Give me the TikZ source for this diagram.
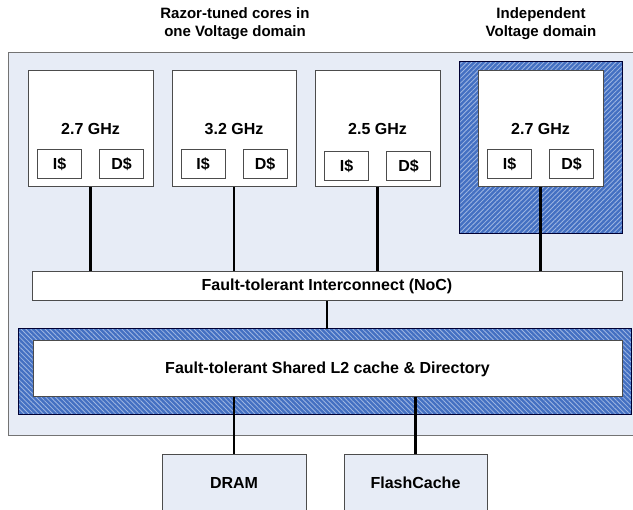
\documentclass[tikz,border=0pt]{standalone}
\usepackage{fontspec}
\setmainfont{Liberation Sans}
\usepackage{xcolor}
\usetikzlibrary{positioning,patterns.meta}

\definecolor{chipbg}{RGB}{231,236,246}
\definecolor{hatchblue}{RGB}{68,112,194}
\definecolor{hatchline}{RGB}{158,182,226}

\begin{document}
\begin{tikzpicture}[x=1pt, y=-1pt,
    every node/.style={font=\bfseries\fontsize{16}{18}\selectfont},
    chip/.style={rectangle, draw=black!55, line width=1pt, fill=chipbg, inner sep=0pt},
    core/.style={rectangle, draw=black!70, line width=1pt, fill=white, minimum width=125pt, minimum height=116pt, inner sep=0pt},
    cachebox/.style={rectangle, draw=black!70, line width=1pt, fill=white, minimum width=44pt, minimum height=29pt, inner sep=0pt},
    bar/.style={rectangle, draw=black!70, line width=1pt, fill=white, inner sep=0pt},
    hatchbox/.style={rectangle, draw=black!80!blue, line width=1pt, preaction={fill=hatchblue}, pattern={Lines[angle=#1, distance=3.4pt, line width=0.8pt]}, pattern color=hatchline, inner sep=0pt},
    memory/.style={rectangle, draw=black!70, line width=1pt, fill=chipbg, minimum width=144pt, inner sep=0pt, text height=34pt, text depth=40pt, anchor=north},
    title/.style={align=center, font=\bfseries\fontsize{15}{18}\selectfont},
    link/.style={line width=2.2pt, black}
]
    \useasboundingbox (0,0) rectangle (633,510);

    % labels on top
    \node[title] (shared) at (235,24) {Razor-tuned cores in\\one Voltage domain};
    \node[title] (indep) at (541,24) {Independent\\Voltage domain};

    % chip background
    \node[chip, anchor=north west, minimum width=640pt, minimum height=383pt] (chip) at (8,52) {};

    % cores
    \node[hatchbox=45, minimum width=163pt, minimum height=172pt] (island) at (540.5,148) {};
    \node[core] (core1) at (90.5,129) {2.7 GHz};
    \node[core, minimum width=124pt] (core2) at (234,129) {3.2 GHz};
    \node[core] (core3) at (377.5,129) {2.5 GHz};
    \node[core] (core4) at (540.5,129) {2.7 GHz};

    \node[cachebox] (i1) at ([xshift=-31pt, yshift=-35.5pt]core1.center) {I\$};
    \node[cachebox] (d1) at ([xshift=31pt, yshift=-35.5pt]core1.center) {D\$};
    \node[cachebox] (i2) at ([xshift=-31pt, yshift=-35.5pt]core2.center) {I\$};
    \node[cachebox] (d2) at ([xshift=31pt, yshift=-35.5pt]core2.center) {D\$};
    \node[cachebox] (i3) at ([xshift=-31pt, yshift=-37.5pt]core3.center) {I\$};
    \node[cachebox] (d3) at ([xshift=31pt, yshift=-37.5pt]core3.center) {D\$};
    \node[cachebox] (i4) at ([xshift=-31pt, yshift=-35.5pt]core4.center) {I\$};
    \node[cachebox] (d4) at ([xshift=31pt, yshift=-35.5pt]core4.center) {D\$};

    % interconnect and L2
    \node[bar, minimum width=590pt, minimum height=29pt] (noc) at (327,286.5) {Fault-tolerant Interconnect (NoC)};
    \node[hatchbox=-45, minimum width=613pt, minimum height=86pt] (l2) at (324.5,372) {};
    \node[bar, minimum width=589pt, minimum height=56pt] (l2in) at (327.5,369) {Fault-tolerant Shared L2 cache \& Directory};

    % off-chip memory
    \node[memory] (dram) at (234,454) {DRAM};
    \node[memory, minimum width=143pt] (flash) at (415.5,454) {FlashCache};

    % wires
    \draw[link] (core1.south) -- (core1.south |- noc.north);
    \draw[link] (core2.south) -- (core2.south |- noc.north);
    \draw[link] (core3.south) -- (core3.south |- noc.north);
    \draw[link] (core4.south) -- (core4.south |- noc.north);
    \draw[link] (noc.south) -- (noc.south |- l2.north);
    \draw[link] (l2in.south -| dram.north) -- (dram.north);
    \draw[link] (l2in.south -| flash.north) -- (flash.north);
\end{tikzpicture}
\end{document}
